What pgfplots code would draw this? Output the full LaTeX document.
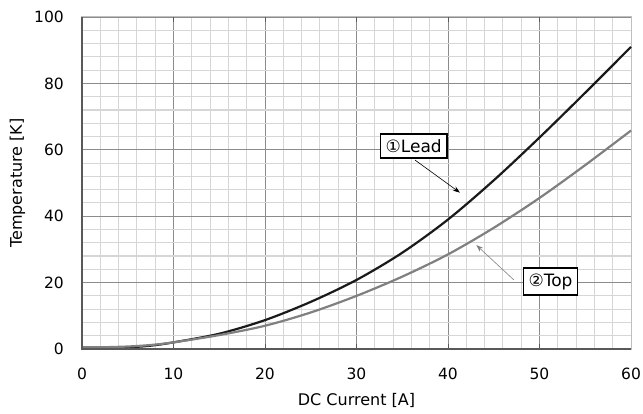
\documentclass[border=0pt]{standalone}
\usepackage{pgfplots}
\pgfplotsset{compat=1.18}
\usepackage{fontspec}
\setmainfont{DejaVu Sans}
\usetikzlibrary{arrows.meta}

\definecolor{leadcol}{HTML}{1A1A1A}
\definecolor{topcol}{HTML}{808080}
\definecolor{minorgrid}{HTML}{D6D6D6}
\definecolor{majorgrid}{HTML}{8C8C8C}
\definecolor{axisdark}{HTML}{595959}
\definecolor{axislight}{HTML}{BFBFBF}

\begin{document}
\begin{tikzpicture}
\path[use as bounding box] (-82bp,-65bp) rectangle (561bp,349bp);
\begin{axis}[
    at={(0,0)}, anchor=south west,
    scale only axis,
    width=549bp, height=332bp,
    xmin=0, xmax=60, ymin=0, ymax=100,
    xtick={0,10,...,60}, ytick={0,20,...,100},
    minor x tick num=4, minor y tick num=4,
    grid=both,
    major grid style={color=majorgrid, line width=0.8bp},
    minor grid style={color=minorgrid, line width=1.1bp},
    axis line style={color=axislight, line width=1bp},
    tick align=inside,
    xtick style={color=axisdark, line width=1bp},
    major tick length=5bp, minor tick length=0pt,
    ytick style={draw=none},
    /pgf/number format/assume math mode=true,
    tick label style={font=\fontsize{15.5bp}{18bp}\selectfont, inner sep=0pt},
    xticklabel style={anchor=north, yshift=-19bp},
    yticklabel style={anchor=east, xshift=-18bp},
    xlabel={DC Current [A]},
    ylabel={Temperature [K]},
    every axis x label/.style={at={(axis description cs:0.5,0)}, anchor=base, yshift=-56bp,
        font=\fontsize{16bp}{19bp}\selectfont, inner sep=0pt},
    every axis y label/.style={at={(axis description cs:0,0.5)}, anchor=base, rotate=90, yshift=60bp,
        font=\fontsize{16bp}{19bp}\selectfont, inner sep=0pt},
    clip=false,
]
% 1 Lead
\addplot[leadcol, line width=2.2bp, smooth] coordinates {
 (0,0.4) (2.5,0.4) (5,0.5) (7.5,1.0) (10,2.0) (15,4.6) (20,8.7) (25,14.2)
 (30,20.8) (35,29.0) (40,39.0) (45,50.8) (50,63.7) (55,77.2) (60,91.0)};
% 2 Top
\addplot[topcol, line width=2.2bp, smooth] coordinates {
 (0,0.5) (2.5,0.55) (5,0.75) (7.5,1.2) (10,2.0) (15,4.2) (20,7.0) (25,11.0)
 (30,16.0) (35,21.8) (40,28.5) (45,36.5) (50,45.5) (55,55.4) (60,65.8)};

\draw[axisdark, line width=1.3bp] (rel axis cs:0,1) -- (rel axis cs:0,0) -- (rel axis cs:1,0);

\draw[black, line width=0.6bp, -{Stealth[length=7bp,width=5bp]}] (axis cs:36.4,56.9) -- (axis cs:41.3,47.1);
\draw[topcol, line width=0.6bp, -{Stealth[length=7bp,width=5bp]}] (axis cs:47.2,20.8) -- (axis cs:43.1,31.3);

\node[draw=black, line width=1.6bp, fill=white, inner xsep=5bp, inner ysep=5.5bp,
      font=\fontsize{17bp}{20bp}\selectfont] at (axis cs:36.25,61.2) {①Lead};
\node[draw=black, line width=1.6bp, fill=white, inner xsep=5bp, inner ysep=5.5bp,
      font=\fontsize{17bp}{20bp}\selectfont] at (axis cs:51.2,20.3) {②Top};
\end{axis}
\end{tikzpicture}
\end{document}
